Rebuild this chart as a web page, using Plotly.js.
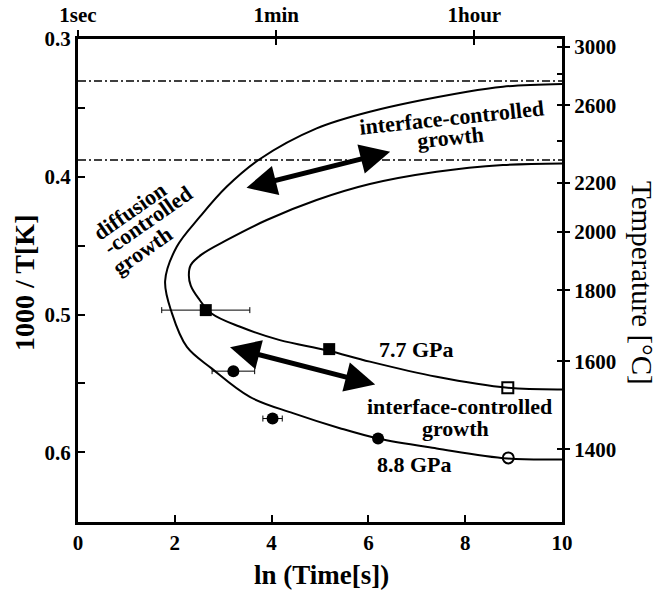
<!DOCTYPE html>
<html>
<head>
<meta charset="utf-8">
<script src="https://cdn.plot.ly/plotly-3.0.1.min.js"></script>
<style>html,body{margin:0;padding:0;background:#fff;}#chart{width:658px;height:591px;}</style>
</head>
<body>
<div id="chart"></div>
<script>
// ---- data ----
// outer boundary curve (8.8 GPa)
const outerX = [10, 8.78, 8.04, 6.03, 4.93, 3.76, 3.07, 2.52, 2.04, 1.80, 1.94, 2.25, 2.76, 3.55, 4.44, 5.41, 6.20, 7.41, 8.88, 10];
const outerY = [0.3327, 0.3346, 0.3383, 0.3528, 0.3649, 0.3871, 0.4073, 0.4290, 0.4508, 0.4757, 0.4990, 0.5235, 0.5391, 0.5598, 0.5716, 0.5825, 0.5900, 0.5972, 0.6045, 0.6052];
// inner boundary curve (7.7 GPa)
const innerX = [10, 8.78, 7.41, 6.03, 4.93, 3.90, 3.07, 2.55, 2.33, 2.29, 2.33, 2.49, 2.76, 3.35, 4.17, 5.14, 6.03, 7.41, 8.88, 10];
const innerY = [0.3903, 0.3915, 0.3964, 0.4053, 0.4169, 0.4314, 0.4460, 0.4565, 0.4640, 0.4715, 0.4790, 0.4883, 0.4992, 0.5089, 0.5186, 0.5259, 0.5342, 0.5452, 0.5532, 0.5544];
// dash-dot reference levels
const dashLevels = [0.3305, 0.3879];
// 7.7 GPa experiments
const sqX = [2.64, 5.19];
const sqY = [0.4968, 0.5251];
const sqErr = [0.91, 0];
const sqOpenX = [8.88];
const sqOpenY = [0.5532];
// 8.8 GPa experiments
const ciX = [3.21, 4.02, 6.20];
const ciY = [0.5411, 0.5755, 0.5900];
const ciErr = [0.44, 0.20, 0];
const ciOpenX = [8.89];
const ciOpenY = [0.6041];
// axis ticks
const xTicks = [0, 2, 4, 6, 8, 10];
const yTicks = [0.3, 0.35, 0.4, 0.45, 0.5, 0.55, 0.6, 0.65];
const yTickText = ['0.3', '', '0.4', '', '0.5', '', '0.6', ''];
const timeSeconds = [1, 60, 3600];
const timeLabels = ['1sec', '1min', '1hour'];
const tempC = [3000, 2600, 2200, 2000, 1800, 1600, 1400];
const tempMinorC = [2800, 2400];

// ---- build ----
const FONT = 'Liberation Serif, "Times New Roman", serif';
const invT = t => 1000 / (t + 273);
const yRange = [0.6506, 0.3];
const xRange = [0, 10];

const traces = [];
dashLevels.forEach(v => traces.push({
  x: [xRange[0], xRange[1]], y: [v, v], mode: 'lines', xaxis: 'x', yaxis: 'y',
  line: {color: '#000', width: 1.5, dash: '8px,3px,2px,3px'}, hoverinfo: 'skip', showlegend: false
}));
traces.push({x: outerX, y: outerY, mode: 'lines', line: {color: '#000', width: 2, shape: 'spline', smoothing: 1}, showlegend: false});
traces.push({x: innerX, y: innerY, mode: 'lines', line: {color: '#000', width: 2, shape: 'spline', smoothing: 1}, showlegend: false});
traces.push({x: sqX, y: sqY, mode: 'markers', marker: {symbol: 'square', size: 12, color: '#000'},
  error_x: {type: 'data', array: sqErr, color: '#000', thickness: 1, width: 3}, showlegend: false});
traces.push({x: sqOpenX, y: sqOpenY, mode: 'markers', marker: {symbol: 'square-open', size: 11, color: '#000', line: {width: 2}}, showlegend: false});
traces.push({x: ciX, y: ciY, mode: 'markers', marker: {symbol: 'circle', size: 12, color: '#000'},
  error_x: {type: 'data', array: ciErr, color: '#000', thickness: 1, width: 3}, showlegend: false});
traces.push({x: ciOpenX, y: ciOpenY, mode: 'markers', marker: {symbol: 'circle-open', size: 11, color: '#000', line: {width: 2}}, showlegend: false});
// dummy traces to register the auxiliary axes
traces.push({x: [null], y: [null], xaxis: 'x2', yaxis: 'y2', mode: 'markers', showlegend: false, hoverinfo: 'skip'});
traces.push({x: [null], y: [null], xaxis: 'x3', yaxis: 'y3', mode: 'markers', showlegend: false, hoverinfo: 'skip'});

const tickFont = {family: FONT, size: 21, color: '#000', weight: 'bold'};
const annFont = {family: FONT, size: 22, color: '#000', weight: 'bold'};
const baseAx = {showgrid: false, zeroline: false, showline: true, linecolor: '#000', linewidth: 3, tickcolor: '#000', tickwidth: 2, fixedrange: true};

const lnTop = timeSeconds.map(s => Math.log(s));
const tempVals = tempC.map(invT);
const tempAll = tempC.concat(tempMinorC).map(invT);

function txt(t, x, y, ang) {
  return {text: t, x: x, y: y, xref: 'x', yref: 'y', showarrow: false, textangle: ang || 0,
    font: annFont, xanchor: 'center', yanchor: 'middle'};
}
function arrow(x1, y1, x2, y2) {
  return {x: x2, y: y2, ax: x1, ay: y1, xref: 'x', yref: 'y', axref: 'x', ayref: 'y', text: '',
    showarrow: true, arrowhead: 2, arrowside: 'end+start', arrowsize: 1.2, arrowwidth: 5, arrowcolor: '#000', standoff: 0, startstandoff: 0};
}

const layout = {
  width: 658, height: 591,
  margin: {l: 78, r: 96, t: 39, b: 69},
  paper_bgcolor: '#fff', plot_bgcolor: '#fff',
  showlegend: false,
  xaxis: Object.assign({}, baseAx, {range: xRange, tickvals: xTicks, ticks: 'inside', ticklen: 7, tickfont: tickFont}),
  yaxis: Object.assign({}, baseAx, {range: yRange, tickvals: yTicks, ticktext: yTickText, ticks: 'inside', ticklen: 7, tickfont: tickFont}),
  xaxis2: Object.assign({}, baseAx, {overlaying: 'x', side: 'top', range: xRange, tickvals: lnTop, ticktext: timeLabels, ticks: 'outside', ticklen: 6, tickfont: tickFont}),
  yaxis2: Object.assign({}, baseAx, {overlaying: 'y', side: 'right', range: yRange, tickvals: tempVals, ticktext: tempC.map(String), ticks: 'outside', ticklen: 5, tickfont: tickFont}),
  xaxis3: Object.assign({}, baseAx, {overlaying: 'x', side: 'top', range: xRange, tickvals: lnTop, ticks: 'inside', ticklen: 6, showticklabels: false}),
  yaxis3: Object.assign({}, baseAx, {overlaying: 'y', side: 'right', range: yRange, tickvals: tempAll, ticks: 'inside', ticklen: 5, showticklabels: false}),
  annotations: [
    {text: '1000 / T[K]', xref: 'paper', yref: 'paper', x: -0.1095, y: 0.495, textangle: -90, showarrow: false,
      font: {family: FONT, size: 28, color: '#000', weight: 'bold'}, xanchor: 'center', yanchor: 'middle'},
    {text: 'ln (Time[s])', xref: 'paper', yref: 'paper', x: 0.504, y: -0.110, showarrow: false,
      font: {family: FONT, size: 27, color: '#000', weight: 'bold'}, xanchor: 'center', yanchor: 'middle'},
    {text: 'Temperature [°C]', xref: 'paper', yref: 'paper', x: 1.165, y: 0.495, textangle: 90, showarrow: false,
      font: {family: FONT, size: 29, color: '#000'}, xanchor: 'center', yanchor: 'middle'},
    txt('interface-controlled', 7.727, 0.3570, -6),
    txt('growth', 7.686, 0.3714, -6),
    txt('interface-controlled', 7.89, 0.5668, 0),
    txt('growth', 7.79, 0.5830, 0),
    txt('diffusion', 1.054, 0.4249, -35),
    txt('-controlled', 1.438, 0.4320, -35),
    txt('growth', 1.339, 0.4536, -35),
    txt('7.7 GPa', 7.0, 0.5251, 0),
    txt('8.8 GPa', 6.96, 0.6086, 0),
    arrow(3.45, 0.4083, 6.45, 0.3818),
    arrow(3.11, 0.5235, 6.14, 0.5508)
  ]
};

Plotly.newPlot('chart', traces, layout, {displayModeBar: false, staticPlot: true});
</script>
</body>
</html>
